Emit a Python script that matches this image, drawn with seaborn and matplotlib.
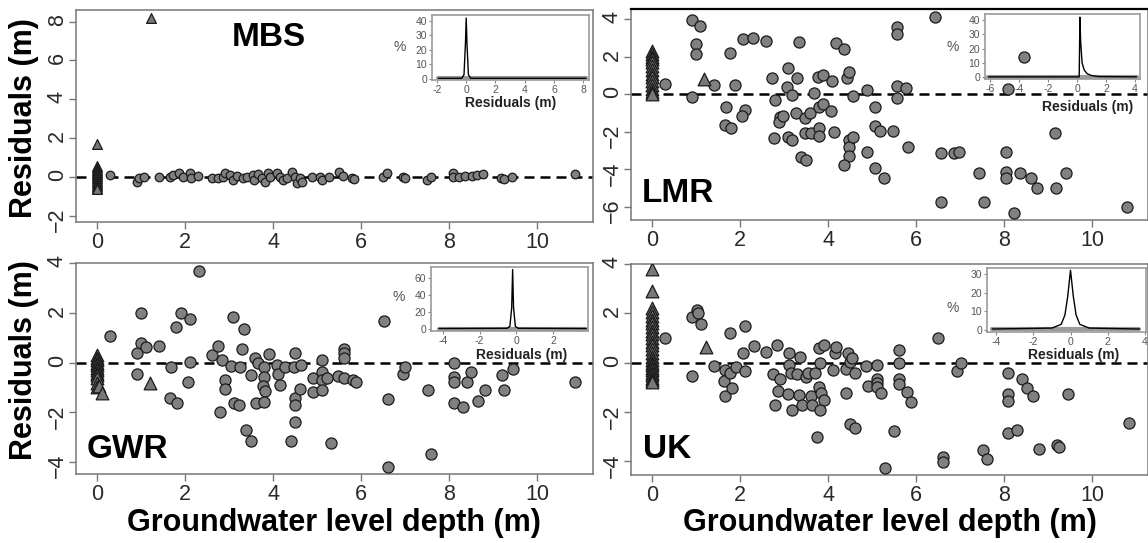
import matplotlib
matplotlib.use("Agg")
import matplotlib.pyplot as plt
import seaborn as sns

# ---------------- data ----------------
# MBS
mbs_cx = [0.29, 0.90, 0.95, 1.07, 1.40, 1.65, 1.72, 1.86, 1.95, 2.10, 2.14, 2.30, 2.60, 2.74, 2.85,
          2.91, 3.02, 3.08, 3.19, 3.31, 3.40, 3.55, 3.56, 3.65, 3.75, 3.82, 3.88, 3.94, 4.08, 4.15,
          4.23, 4.32, 4.44, 4.49, 4.55, 4.61, 4.65, 4.89, 5.07, 5.12, 5.28, 5.49, 5.58, 5.79, 5.83,
          6.50, 6.58, 6.96, 7.00, 7.49, 7.59, 8.08, 8.09, 8.22, 8.36, 8.51, 8.64, 8.78, 9.18, 9.25,
          9.43, 10.86]
mbs_cy = [0.12, -0.24, -0.03, 0.02, -0.02, 0.02, 0.10, 0.19, 0.02, 0.19, -0.03, 0.05, -0.07, -0.07, 0.02,
          0.19, 0.10, -0.15, 0.05, -0.03, 0.02, 0.10, -0.15, 0.14, -0.07, -0.24, 0.19, 0.02, 0.22, 0.02,
          -0.15, -0.07, 0.24, 0.02, -0.29, -0.07, -0.24, 0.02, 0.02, -0.15, 0.02, 0.27, 0.07, -0.07, -0.12,
          0.02, 0.19, 0.02, -0.07, -0.15, 0.02, 0.19, 0.02, 0.02, 0.05, 0.05, 0.10, 0.14, -0.07, -0.12,
          0.02, 0.15]
mbs_tx = [0] * 14 + [1.22]
mbs_ty = [1.7, 0.55, 0.45, 0.35, 0.25, 0.15, 0.05, -0.05, -0.15, -0.25, -0.35, -0.45, -0.55, -0.62, 8.2]

# LMR
lmr_cx = [0.3, 0.9, 1.08, 1.0, 1.0, 0.9, 1.4, 1.78, 1.69, 1.88, 2.1, 2.05, 1.65, 1.8, 2.07, 2.29, 2.59,
          2.73, 2.8, 2.78, 3.09, 3.07, 3.19, 2.9, 2.88, 2.98, 3.08, 3.19, 3.33, 3.29, 3.28, 3.47, 3.38,
          3.5, 3.58, 3.67, 3.47, 3.61, 3.78, 3.88, 3.79, 3.88, 3.79, 3.8, 4.07, 4.08, 4.13, 4.17, 4.36,
          4.44, 4.48, 4.47, 4.47, 4.48, 4.36, 4.57, 4.57, 4.88, 4.88, 5.07, 5.07, 5.18, 5.07, 5.26, 5.47,
          5.57, 5.57, 5.57, 5.57, 5.78, 5.82, 6.44, 6.57, 6.57, 6.86, 6.97, 7.44, 7.55, 8.05, 8.05, 8.05,
          8.09, 8.45, 8.23, 8.36, 8.61, 8.75, 9.15, 9.19, 9.4, 10.8]
lmr_cy = [0.53, 3.96, 3.64, 2.67, 2.13, -0.16, 0.48, 2.19, -0.66, 0.5, -0.84, -1.14, -1.65, -1.78, 2.95,
          2.99, 2.84, 0.84, -0.3, -2.35, 1.39, 0.37, -0.04, -1.19, -1.46, -1.16, -2.29, -2.44, 2.76, 0.85,
          -0.98, -1.28, -3.36, -3.5, -0.98, 0.05, -2.08, -2.08, 0.91, 1.03, -0.66, -0.52, -1.81, -2.22,
          -0.92, 0.68, -1.99, 2.72, 2.4, 0.85, 1.21, -2.44, -2.79, -3.29, -3.77, -2.26, -0.12, 0.2, -3.08,
          -0.66, -1.69, -1.94, -3.91, -4.48, -1.96, 3.57, 3.2, 0.44, -0.21, 0.32, -2.79, 4.11, -3.15,
          -5.72, -3.15, -3.09, -4.18, -5.72, -3.06, -4.12, -4.48, 0.27, 2.0, -6.34, -4.17, -4.48, -5.0,
          -2.08, -4.97, -4.17, -6.02]
lmr_tx = [0] * 14 + [1.19]
lmr_ty = [2.3, 2.15, 2.0, 1.85, 1.7, 1.5, 1.3, 1.1, 0.9, 0.7, 0.5, 0.3, 0.1, 0.0, 0.8]

# GWR
gwr_cx = [0.30, 0.91, 0.91, 0.99, 0.99, 1.10, 1.41, 1.69, 1.65, 1.81, 1.80, 1.90, 2.10, 2.10, 2.07,
          2.31, 2.60, 2.75, 2.84, 2.90, 2.90, 2.80, 3.09, 3.05, 3.11, 3.22, 3.30, 3.34, 3.24, 3.38,
          3.49, 3.49, 3.59, 3.61, 3.66, 3.80, 3.80, 3.76, 3.82, 3.80, 3.91, 4.08, 4.11, 4.16, 4.27,
          4.41, 4.48, 4.50, 4.50, 4.50, 4.50, 4.62, 4.64, 4.90, 4.90, 5.10, 5.12, 5.12, 5.12, 5.23,
          5.31, 5.48, 5.61, 5.61, 5.61, 5.61, 5.82, 5.88, 6.51, 6.60, 6.60, 6.95, 6.99, 7.51, 7.58,
          8.10, 8.11, 8.11, 8.11, 8.31, 8.40, 8.50, 8.65, 8.82, 9.20, 9.24, 9.45, 10.86]
gwr_cy = [1.08, 0.40, -0.47, 2.02, 0.81, 0.65, 0.69, -0.16, -1.41, -1.61, 1.42, 2.02, 1.75, 0.04, -0.77,
          3.71, 0.31, 0.67, 0.11, -0.70, -1.06, -1.98, 1.83, -0.13, -1.64, -1.71, 0.55, 1.37, -0.16,
          -2.72, -3.15, -0.50, 0.17, -1.64, 0.00, -0.16, -0.56, -0.94, -1.14, -1.60, 0.35, -0.09, -0.46,
          -0.90, -0.16, -3.15, -0.16, 0.40, -1.44, -1.71, -2.38, -1.08, -0.09, -0.63, -1.17, 0.11, -0.36,
          -0.70, -1.10, -0.63, -3.25, -0.52, 0.54, 0.38, 0.20, -0.60, -0.70, -0.77, 1.69, -1.47, -4.19,
          -0.46, -0.16, -1.10, -3.70, -0.03, -0.56, -0.77, -1.64, -1.80, -0.77, -0.36, -1.53, -1.10,
          -0.50, -1.10, -0.27, -0.77]
gwr_tx = [0] * 12 + [0.05, 0.11, 1.2]
gwr_ty = [0.3, 0.2, 0.1, 0.0, -0.1, -0.2, -0.3, -0.4, -0.5, -0.6, -0.8, -1.0, -0.95, -1.24, -0.83]

# UK
uk_cx = [0.30, 0.90, 1.03, 1.05, 1.11, 0.90, 1.40, 1.66, 1.64, 1.66, 1.78, 1.78, 1.81, 1.91, 2.12,
         2.06, 2.12, 2.31, 2.58, 2.83, 2.74, 2.91, 2.87, 2.80, 3.10, 3.12, 3.16, 3.08, 3.19, 3.37,
         3.30, 3.33, 3.41, 3.50, 3.54, 3.60, 3.63, 3.70, 3.75, 3.81, 3.79, 3.90, 3.80, 3.83, 3.91,
         3.81, 4.10, 4.15, 4.18, 4.40, 4.40, 4.46, 4.50, 4.55, 4.61, 4.50, 4.61, 4.87, 4.90, 5.10,
         5.10, 5.12, 5.12, 5.21, 5.29, 5.50, 5.60, 5.60, 5.60, 5.60, 5.79, 5.88, 6.49, 6.61, 6.61,
         6.94, 7.01, 7.51, 7.61, 8.08, 8.08, 8.08, 8.09, 8.30, 8.41, 8.51, 8.66, 8.80, 9.20, 9.25,
         9.45, 10.84]
uk_cy = [1.01, 1.84, 2.14, 2.00, 1.57, -0.54, -0.12, -0.30, -0.74, -1.34, 1.19, -0.41, -1.04, -0.19,
         1.49, 0.38, -0.32, 0.68, 0.45, 0.72, -0.46, -0.68, -1.14, -1.72, 0.41, -0.09, -0.41, -1.27,
         -1.92, 0.22, -0.46, -1.31, -1.72, -0.57, -0.43, -1.34, -1.72, -0.43, -3.03, 0.00, 0.58, 0.72,
         -0.97, -1.24, -1.51, -1.92, -0.30, 0.41, 0.65, -1.22, -0.27, 0.38, 0.04, 0.18, -0.41, -2.50,
         -2.64, -0.14, -0.95, -0.09, -0.64, -0.84, -1.00, -1.24, -4.26, -2.77, 0.51, 0.00, -0.64, -0.86,
         -1.18, -1.58, 1.01, -3.81, -4.01, -0.32, -0.03, -3.54, -3.92, -0.41, -1.27, -1.55, -2.86,
         -2.73, -0.64, -1.01, -1.34, -3.51, -3.34, -3.41, -1.27, -2.46]
uk_tx = [0] * 26 + [1.22]
uk_ty = [3.8, 2.9, 2.2, 2.05, 1.9, 1.75, 1.6, 1.45, 1.3, 1.15, 1.0, 0.85, 0.7, 0.55, 0.4, 0.25,
         0.1, 0.0, -0.1, -0.2, -0.3, -0.4, -0.5, -0.6, -0.7, -0.78, 0.65]

# inset density curves (percent)
mbs_kx = [-1.9, -0.3, -0.15, -0.05, 0.0, 0.05, 0.15, 0.3, 8.2]
mbs_ky = [0.5, 0.5, 3, 25, 42, 25, 3, 0.5, 0.5]
lmr_kx = [-6.1, 0.15, 0.2, 0.25, 0.35, 0.5, 0.7, 1.0, 1.5, 4.1]
lmr_ky = [0.3, 0.3, 42, 25, 10, 5, 2.5, 1.2, 0.5, 0.3]
gwr_kx = [-4.2, -0.5, -0.35, -0.25, -0.2, -0.15, -0.05, 0.1, 3.8]
gwr_ky = [0.5, 0.8, 3, 25, 70, 25, 3, 0.8, 0.5]
uk_kx = [-4.2, -1.0, -0.5, -0.3, -0.15, 0.0, 0.15, 0.3, 0.5, 1.0, 3.7]
uk_ky = [0.5, 1, 3, 8, 18, 32, 18, 8, 3, 1, 0.5]

W, H = 1148, 543

sns.set_style("ticks")
plt.rcParams["font.family"] = ["Liberation Sans", "DejaVu Sans"]

fig = plt.figure(figsize=(W / 100, H / 100), dpi=100)


def box(x0, y0, x1, y1):
    return [x0 / W, 1 - y1 / H, (x1 - x0) / W, (y1 - y0) / H]


def ftext(x, y, s, **kw):
    fig.text(x / W, 1 - y / H, s, **kw)


panels = [
    dict(name="MBS", cx=mbs_cx, cy=mbs_cy, tx=mbs_tx, ty=mbs_ty, s=38,
         box=(76, 10, 593, 222), ylim=(-2.32, 8.6), yticks=[-2, 0, 2, 4, 6, 8],
         lab=(269, 38, "center"),
         ibox=(432, 15, 589, 80), ixlim=(-2.34, 8.4), iylim=(-0.7, 44.1),
         ixt=[-2, 0, 2, 4, 6, 8], iyt=[0, 10, 20, 30, 40], kx=mbs_kx, ky=mbs_ky,
         pct=(400, 47), res=(511, 103)),
    dict(name="LMR", cx=lmr_cx, cy=lmr_cy, tx=lmr_tx, ty=lmr_ty, s=64,
         box=(631, 9, 1148, 220), ylim=(-6.7, 4.54), yticks=[-6, -4, -2, 0, 2, 4],
         lab=(642, 194, "left"),
         ibox=(985, 14, 1140, 79), ixlim=(-6.34, 4.34), iylim=(-1.2, 44.2),
         ixt=[-6, -4, -2, 0, 2, 4], iyt=[0, 10, 20, 30, 40], kx=lmr_kx, ky=lmr_ky,
         pct=(953, 47), res=(1088, 107)),
    dict(name="GWR", cx=gwr_cx, cy=gwr_cy, tx=gwr_tx, ty=gwr_ty, s=64,
         box=(76, 263, 593, 474), ylim=(-4.49, 4.02), yticks=[-4, -2, 0, 2, 4],
         lab=(87, 449, "left"),
         ibox=(431, 267, 588, 331), ixlim=(-4.64, 3.9), iylim=(-2.4, 73),
         ixt=[-4, -2, 0, 2], iyt=[0, 20, 40, 60], kx=gwr_kx, ky=gwr_ky,
         pct=(399, 297), res=(522, 355)),
    dict(name="UK", cx=uk_cx, cy=uk_cy, tx=uk_tx, ty=uk_ty, s=64,
         box=(631, 264, 1148, 475), ylim=(-4.55, 4.0), yticks=[-4, -2, 0, 2, 4],
         lab=(643, 449, "left"),
         ibox=(987, 268, 1146, 332), ixlim=(-4.48, 4.05), iylim=(-1.1, 33.2),
         ixt=[-4, -2, 0, 2, 4], iyt=[0, 10, 20, 30], kx=uk_kx, ky=uk_ky,
         pct=(953, 308), res=(1074, 355)),
]

for p in panels:
    ax = fig.add_axes(box(*p["box"]))
    sns.scatterplot(x=p["cx"], y=p["cy"], ax=ax, marker="o", s=p["s"], color="#808080",
                    edgecolor="#1a1a1a", linewidth=0.9, legend=False, zorder=3)
    sns.scatterplot(x=p["tx"], y=p["ty"], ax=ax, marker="^", s=p["s"] * 1.3, color="#787878",
                    edgecolor="#1a1a1a", linewidth=0.9, legend=False, zorder=3)
    ax.axhline(0, color="black", lw=1.8, ls=(0, (4, 2.4)), zorder=2)
    ax.set_xlim(-0.48, 11.27)
    ax.set_ylim(*p["ylim"])
    ax.set_xticks([0, 2, 4, 6, 8, 10])
    ax.set_yticks(p["yticks"])
    ax.tick_params(axis="both", labelsize=15.5, labelcolor="#2a2a2a", color="#777777",
                   length=5, width=1, pad=2.5)
    ax.tick_params(axis="y", labelrotation=90, pad=1)
    for sp in ax.spines.values():
        sp.set_color("#777777")
        sp.set_linewidth(1.1)
    if p["name"] == "LMR":
        ax.spines["top"].set_color("black")
        ax.spines["top"].set_linewidth(1.6)
    ax.set_xlabel("")
    ax.set_ylabel("")
    lx, ly, ha = p["lab"]
    ftext(lx, ly, p["name"], fontsize=24, fontweight="bold", color="black", ha=ha, va="center")

    # inset with the residual distribution
    ia = fig.add_axes(box(*p["ibox"]))
    ia.patch.set_alpha(0)
    sns.lineplot(x=[p["kx"][0], p["kx"][-1]], y=[p["ky"][0], p["ky"][-1]], ax=ia,
                 color="#9a9a9a", lw=3, estimator=None, sort=False)
    sns.lineplot(x=p["kx"], y=p["ky"], ax=ia, color="black", lw=1,
                 estimator=None, sort=False)
    ia.set_xlim(*p["ixlim"])
    ia.set_ylim(*p["iylim"])
    ia.set_xticks(p["ixt"])
    ia.set_yticks(p["iyt"])
    ia.set_xticklabels([str(v) for v in p["ixt"]])
    ia.tick_params(axis="both", labelsize=7.5, labelcolor="#555555", color="#888888",
                   length=2.5, width=0.8, pad=1.0)
    for sp in ia.spines.values():
        sp.set_color("#999999")
        sp.set_linewidth(1.2)
    ia.set_xlabel("")
    ia.set_ylabel("")
    ftext(*p["pct"], "%", fontsize=10, color="#555555", ha="center", va="center")
    ftext(*p["res"], "Residuals (m)", fontsize=10, fontweight="bold", color="#222222",
          ha="center", va="center")

for yc in (118, 360):
    ftext(24, yc, "Residuals (m)", fontsize=22, fontweight="bold", rotation=90,
          color="black", ha="center", va="center")
for xc in (334, 890):
    ftext(xc, 523, "Groundwater level depth (m)", fontsize=22, fontweight="bold",
          color="black", ha="center", va="center")

fig.savefig("out.png", dpi=100)
